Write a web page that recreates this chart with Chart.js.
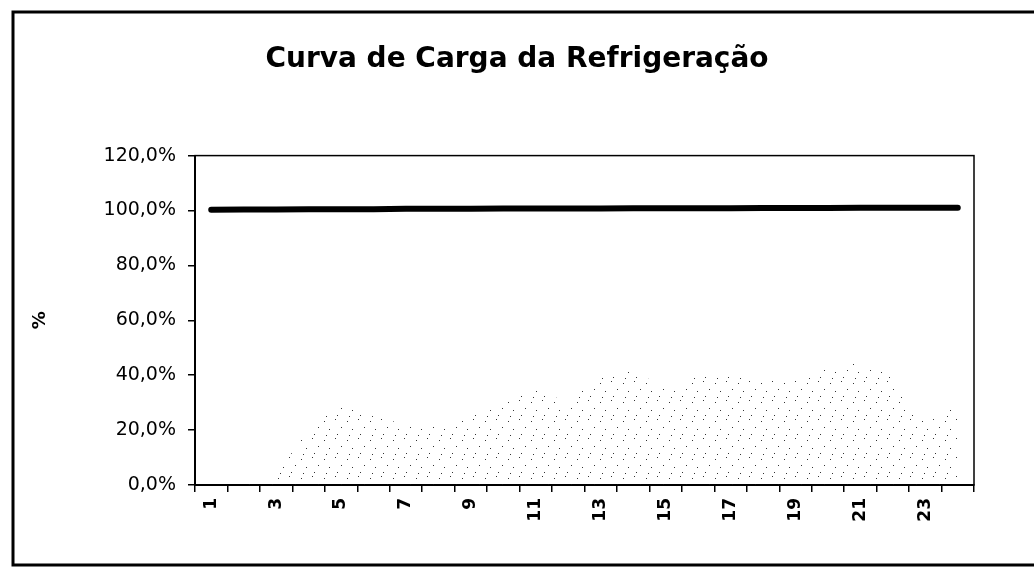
<!DOCTYPE html>
<html>
<head>
<meta charset="utf-8">
<script src="https://cdn.jsdelivr.net/npm/chart.js@4.4.1/dist/chart.umd.min.js"></script>
<style>
  html, body { margin: 0; padding: 0; background: #fff; }
  #wrap { width: 1034px; height: 569px; position: relative; }
</style>
</head>
<body>
<div id="wrap"><canvas id="chart1"></canvas></div>
<script>
// hours of the day
const hours = ['1','2','3','4','5','6','7','8','9','10','11','12','13','14','15','16','17','18','19','20','21','22','23','24'];
// refrigeration load curve (%), thick black line
const cargaRefrig = [100.3, 100.4, 100.4, 100.5, 100.5, 100.5, 100.6, 100.6, 100.6, 100.7, 100.7, 100.7, 100.7, 100.8, 100.8, 100.8, 100.8, 100.9, 100.9, 100.9, 101.0, 101.0, 101.0, 101.0];
// faint stippled series underneath (%)
const cargaFundo = [0, 0, 4, 20, 30, 25, 22, 22, 25, 30, 35, 30, 40, 42, 35, 40, 40, 38, 38, 43, 45, 40, 22, 30];
const yTicks = [0, 20, 40, 60, 80, 100, 120];

const fontMain = 'DejaVu Sans';

// scanned-look stipple for the background series
const pc = document.createElement('canvas');
pc.width = 23; pc.height = 19;
const pctx = pc.getContext('2d');
pctx.fillStyle = '#333';
[[2,3],[13,1],[19,9],[7,11],[15,16],[4,17]].forEach(p => pctx.fillRect(p[0], p[1], 1, 1));
const stipple = pctx.createPattern(pc, 'repeat');

// outer frame + full plot box
const frames = {
    id: 'frames',
    afterDraw(chart){
        const c = chart.ctx;
        const a = chart.chartArea;
        c.save();
        c.strokeStyle = '#000';
        c.lineWidth = 1.5;
        c.strokeRect(a.left, a.top, a.right - a.left, a.bottom - a.top);
        c.lineWidth = 3;
        c.beginPath();
        c.moveTo(1034, 12);
        c.lineTo(13, 12);
        c.lineTo(13, 565);
        c.lineTo(1034, 565);
        c.stroke();
        c.restore();
    }
};

let MyChart = document.getElementById('chart1').getContext('2d');
let refrigChart = new Chart(MyChart, {
    type: 'line',
    data: {
        labels: hours,
        datasets: [{
            label: 'Carga',
            data: cargaRefrig,
            borderColor: '#000',
            borderWidth: 6,
            borderCapStyle: 'round',
            pointRadius: 0,
            fill: false,
            order: 1
        }, {
            label: 'Fundo',
            data: cargaFundo,
            borderWidth: 0,
            borderColor: 'rgba(0,0,0,0)',
            backgroundColor: stipple,
            pointRadius: 0,
            fill: 'origin',
            order: 2
        }]
    },
    options: {
        responsive: true,
        maintainAspectRatio: false,
        animation: false,
        layout: { padding: { left: 60, right: 60, top: 10, bottom: 22 } },
        plugins: {
            legend: { display: false },
            tooltip: { enabled: false },
            title: {
                display: true,
                text: 'Curva de Carga da Refrigeração',
                color: '#000',
                font: { family: fontMain, size: 28, weight: 'bold' },
                padding: { top: 33, bottom: 79 }
            }
        },
        scales: {
            x: {
                offset: true,
                grid: { offset: true, drawOnChartArea: false, tickLength: 7, color: '#000', lineWidth: 1.5 },
                border: { color: '#000', width: 2 },
                ticks: {
                    autoSkip: false,
                    maxRotation: 90,
                    minRotation: 90,
                    color: '#000',
                    padding: 6,
                    font: { family: fontMain, size: 17, weight: 'bold' },
                    callback: function(v, i){ return i % 2 === 0 ? hours[i] : ''; }
                },
                afterFit(scale){ scale.height = 62; }
            },
            y: {
                min: 0,
                max: 120,
                afterBuildTicks(scale){ scale.ticks = yTicks.map(v => ({ value: v })); },
                grid: { drawOnChartArea: false, tickLength: 7, color: '#000', lineWidth: 1.5 },
                border: { color: '#000', width: 2 },
                ticks: {
                    color: '#000',
                    padding: 12,
                    font: { family: fontMain, size: 19 },
                    callback: v => v.toFixed(1).replace('.', ',') + '%'
                },
                title: {
                    display: true,
                    text: '%',
                    color: '#000',
                    font: { family: fontMain, size: 18, weight: 'bold' },
                    padding: { top: -30, bottom: 0 }
                },
                afterFit(scale){ scale.width = 135; }
            }
        }
    },
    plugins: [frames]
});
</script>
</body>
</html>
